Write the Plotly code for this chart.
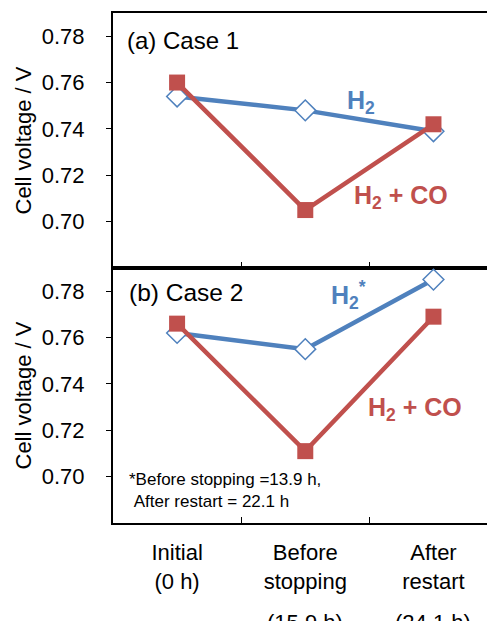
import plotly.graph_objects as go
from plotly.subplots import make_subplots

categories = ["Initial", "Before stopping", "After restart"]
tick_labels = ["Initial<br>(0 h)", "Before<br>stopping", "After<br>restart"]
# third label line (set lower than the others, as in the original)
tick_hours_low = {"Before stopping": "(15.9 h)", "After restart": "(24.1 h)"}

case1_h2 = [0.754, 0.748, 0.739]
case1_h2co = [0.760, 0.705, 0.742]
case2_h2 = [0.762, 0.755, 0.785]
case2_h2co = [0.766, 0.711, 0.769]

y_ticks = [0.70, 0.72, 0.74, 0.76, 0.78]
y_tick_labels = ["0.70", "0.72", "0.74", "0.76", "0.78"]

BLUE = "#4F81BD"
RED = "#C0504D"
FONT = "Liberation Sans, Arial, sans-serif"

fig = make_subplots(rows=2, cols=1, shared_xaxes=True, vertical_spacing=0.0)

def add_pair(h2, h2co, row):
    fig.add_trace(go.Scatter(
        x=categories, y=h2, mode="lines+markers",
        line=dict(color=BLUE, width=4.5),
        marker=dict(symbol="diamond", size=16, color="white",
                    line=dict(color=BLUE, width=1.5)),
        cliponaxis=False, showlegend=False), row=row, col=1)
    fig.add_trace(go.Scatter(
        x=categories, y=h2co, mode="lines+markers",
        line=dict(color=RED, width=4.5),
        marker=dict(symbol="square", size=16, color=RED,
                    line=dict(color=RED, width=0)),
        cliponaxis=False, showlegend=False), row=row, col=1)

add_pair(case1_h2, case1_h2co, 1)
add_pair(case2_h2, case2_h2co, 2)

xcommon = dict(
    type="category", range=[-0.5, 2.48], tickson="boundaries",
    ticks="inside", ticklen=6, tickwidth=1.2, tickcolor="black",
    showline=True, linecolor="black", linewidth=2, mirror=True,
    showgrid=False, zeroline=False, automargin=False,
    tickvals=categories, ticktext=tick_labels,
    tickfont=dict(family=FONT, size=22, color="black"),
)
fig.update_xaxes(**xcommon)
fig.update_xaxes(showticklabels=False, row=1, col=1)
fig.update_xaxes(ticklabelstandoff=9, row=2, col=1)

ycommon = dict(
    range=[0.68, 0.79], tickvals=y_ticks, ticktext=y_tick_labels,
    ticks="outside", ticklen=5, tickwidth=1.2, tickcolor="black",
    showline=True, linecolor="black", linewidth=2, automargin=False,
    showgrid=False, zeroline=False, ticklabelstandoff=17,
    tickfont=dict(family=FONT, size=22, color="black"),
)
fig.update_yaxes(**ycommon)

ann = []
for yr in ("y domain", "y2 domain"):
    ann.append(dict(text="Cell voltage / V", xref="paper", yref=yr,
                    x=-0.2356, y=0.5, xanchor="center", yanchor="middle",
                    textangle=-90, showarrow=False,
                    font=dict(family=FONT, size=22, color="black")))

for cat, txt in tick_hours_low.items():
    ann.append(dict(text=txt, xref="x2", yref="y2 domain", x=cat, y=-0.39,
                    xanchor="center", yanchor="middle", showarrow=False,
                    font=dict(family=FONT, size=22, color="black")))

ann += [
    dict(text="(a) Case 1", xref="x domain", yref="y domain", x=0.031, y=0.894,
         xanchor="left", yanchor="middle", showarrow=False,
         font=dict(family=FONT, size=24, color="black")),
    dict(text="<b>H<sub>2</sub></b>", xref="x domain", yref="y domain", x=0.607, y=0.651,
         xanchor="left", yanchor="middle", showarrow=False,
         font=dict(family=FONT, size=25, color=BLUE)),
    dict(text="<b>H<sub>2</sub> + CO</b>", xref="x domain", yref="y domain", x=0.625, y=0.278,
         xanchor="left", yanchor="middle", showarrow=False,
         font=dict(family=FONT, size=25, color=RED)),
    dict(text="(b) Case 2", xref="x2 domain", yref="y2 domain", x=0.036, y=0.902,
         xanchor="left", yanchor="middle", showarrow=False,
         font=dict(family=FONT, size=24.5, color="black")),
    dict(text="<b>H<sub>2</sub><sup>*</sup></b>", xref="x2 domain", yref="y2 domain", x=0.566, y=0.893,
         xanchor="left", yanchor="middle", showarrow=False,
         font=dict(family=FONT, size=25, color=BLUE)),
    dict(text="<b>H<sub>2</sub> + CO</b>", xref="x2 domain", yref="y2 domain", x=0.663, y=0.449,
         xanchor="left", yanchor="middle", showarrow=False,
         font=dict(family=FONT, size=25, color=RED)),
    dict(text="*Before stopping =13.9 h,<br>&nbsp;After restart = 22.1 h", xref="x2 domain", yref="y2 domain",
         x=0.036, y=0.129, xanchor="left", yanchor="middle", align="left", showarrow=False,
         font=dict(family=FONT, size=17, color="black")),
]

# The page body adds an 8 px offset, so the figure is sized to fill the window.
fig.update_layout(
    width=487, height=613,
    margin=dict(l=105, r=0, t=5, b=98),
    paper_bgcolor="white", plot_bgcolor="white",
    annotations=ann,
    showlegend=False,
)

fig.write_html("out.html")
